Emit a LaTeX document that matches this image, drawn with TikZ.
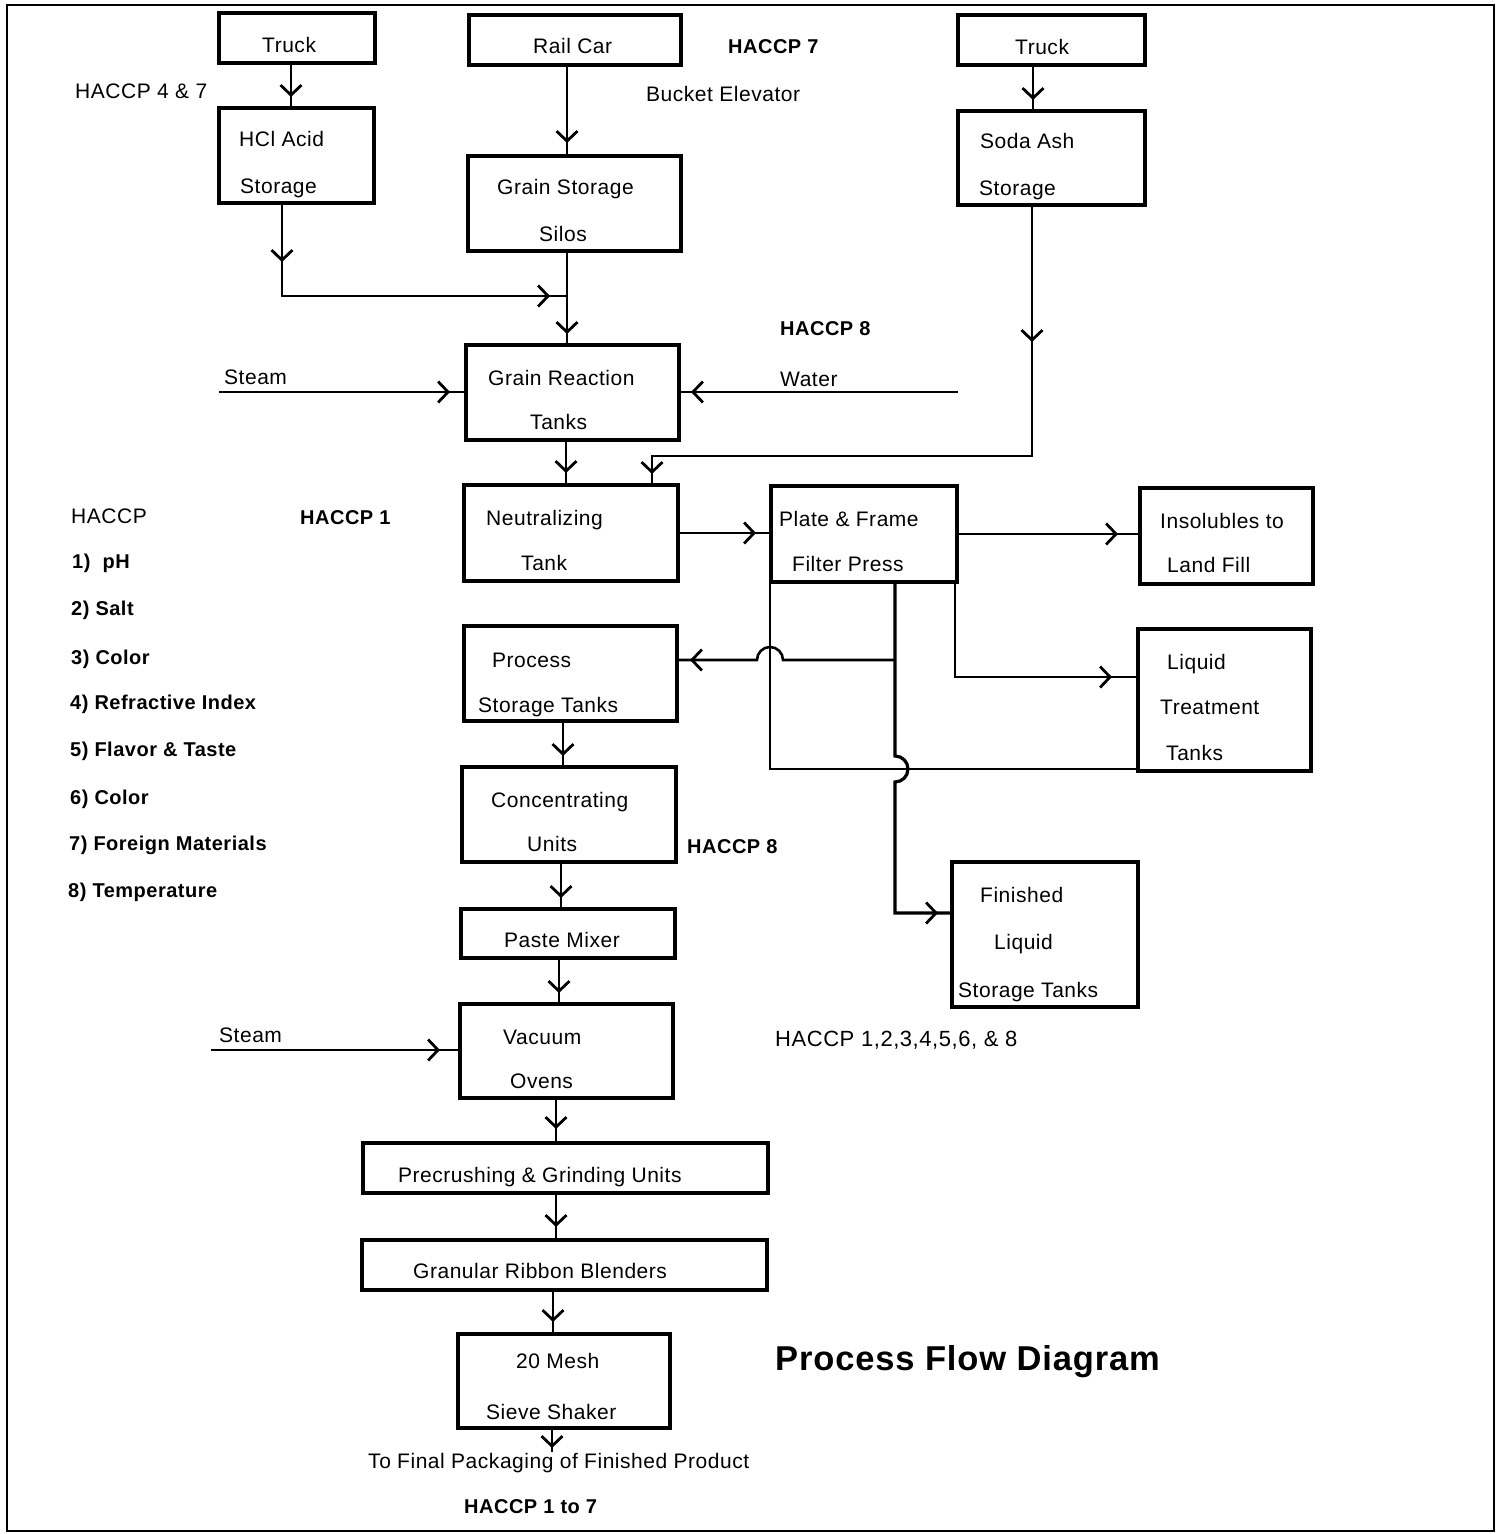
\documentclass[tikz,border=0pt]{standalone}
\usepackage{fontspec}
\setmainfont[LetterSpace=2.5]{Liberation Sans}
\usetikzlibrary{arrows.meta,decorations.markings}
\tikzset{
  box/.style={draw, line width=4pt, inner sep=0pt, outer sep=0pt, anchor=north west},
  txt/.style={anchor=base west, inner sep=0pt, font=\fontsize{21}{25}\selectfont},
  btxt/.style={anchor=base west, inner sep=0pt, font=\fontsize{20}{24}\selectfont\bfseries},
  flow/.style={line width=2.6pt},
  arr/.style={postaction={decorate,decoration={markings,mark=at position #1 with {\arrow{Straight Barb[length=10pt,width=21pt,line width=2.8pt]}}}}},
}
\begin{document}
\begin{tikzpicture}[x=1pt,y=-1pt]
\useasboundingbox (0,0) rectangle (1501,1534);
\draw[line width=2pt] (7,5) rectangle (1494,1531);

% boxes
\node[box, minimum width=156pt, minimum height=50pt] (truckA) at (219,13) {};
\node[box, minimum width=212pt, minimum height=50pt] (rail) at (469,15) {};
\node[box, minimum width=187pt, minimum height=50pt] (truckB) at (958,15) {};
\node[box, minimum width=155pt, minimum height=95pt] (hclA) at (219,108) {};
\node[box, minimum width=213pt, minimum height=95pt] (silos) at (468,156) {};
\node[box, minimum width=187pt, minimum height=94pt] (soda) at (958,111) {};
\node[box, minimum width=213pt, minimum height=95pt] (react) at (466,345) {};
\node[box, minimum width=214pt, minimum height=96pt] (neut) at (464,485) {};
\node[box, minimum width=186pt, minimum height=96pt] (pf) at (771,486) {};
\node[box, minimum width=173pt, minimum height=96pt] (insol) at (1140,488) {};
\node[box, minimum width=213pt, minimum height=95pt] (proc) at (464,626) {};
\node[box, minimum width=173pt, minimum height=142pt] (liq) at (1138,629) {};
\node[box, minimum width=214pt, minimum height=95pt] (conc) at (462,767) {};
\node[box, minimum width=186pt, minimum height=145pt] (fin) at (952,862) {};
\node[box, minimum width=214pt, minimum height=49pt] (paste) at (461,909) {};
\node[box, minimum width=213pt, minimum height=94pt] (vac) at (460,1004) {};
\node[box, minimum width=405pt, minimum height=50pt] (precr) at (363,1143) {};
\node[box, minimum width=405pt, minimum height=50pt] (gran) at (362,1240) {};
\node[box, minimum width=212pt, minimum height=94pt] (mesh) at (458,1334) {};

% texts in boxes
\node[txt] (tTruckA) at (262,52) {Truck};
\node[txt] (tRail) at (533,53) {Rail Car};
\node[txt] (tTruckB) at (1015,54) {Truck};
\node[txt] (tHcl1) at (239,146) {HCl Acid};
\node[txt] (tHcl2) at (240,193) {Storage};
\node[txt] (tSil1) at (497,194) {Grain Storage};
\node[txt] (tSil2) at (539,241) {Silos};
\node[txt] (tSoda1) at (980,148) {Soda Ash};
\node[txt] (tSoda2) at (979,195) {Storage};
\node[txt] (tReact1) at (488,385) {Grain Reaction};
\node[txt] (tReact2) at (530,429) {Tanks};
\node[txt] (tNeut1) at (486,525) {Neutralizing};
\node[txt] (tNeut2) at (521,570) {Tank};
\node[txt] (tPf1) at (779,526) {Plate \& Frame};
\node[txt] (tPf2) at (792,571) {Filter Press};
\node[txt] (tIns1) at (1160,528) {Insolubles to};
\node[txt] (tIns2) at (1167,572) {Land Fill};
\node[txt] (tProc1) at (492,667) {Process};
\node[txt] (tProc2) at (478,712) {Storage Tanks};
\node[txt] (tLiq1) at (1167,669) {Liquid};
\node[txt] (tLiq2) at (1160,714) {Treatment};
\node[txt] (tLiq3) at (1166,760) {Tanks};
\node[txt] (tConc1) at (491,807) {Concentrating};
\node[txt] (tConc2) at (527,851) {Units};
\node[txt] (tFin1) at (980,902) {Finished};
\node[txt] (tFin2) at (994,949) {Liquid};
\node[txt] (tFin3) at (958,997) {Storage Tanks};
\node[txt] (tPaste) at (504,947) {Paste Mixer};
\node[txt] (tVac1) at (503,1044) {Vacuum};
\node[txt] (tVac2) at (510,1088) {Ovens};
\node[txt] (tPrecr) at (398,1182) {Precrushing \& Grinding Units};
\node[txt] (tGran) at (413,1278) {Granular Ribbon Blenders};
\node[txt] (tMesh1) at (516,1368) {20 Mesh};
\node[txt] (tMesh2) at (486,1419) {Sieve Shaker};

% free labels
\node[btxt] (hc7) at (728,53) {HACCP 7};
\node[txt] (hc47) at (75,98) {HACCP 4 \& 7};
\node[txt] (bucket) at (646,101) {Bucket Elevator};
\node[btxt] (hc8a) at (780,335) {HACCP 8};
\node[txt] (steamA) at (224,384) {Steam};
\node[txt] (water) at (780,386) {Water};
\node[txt] (hclist) at (71,523) {HACCP};
\node[btxt] (hc1) at (300,524) {HACCP 1};
\node[btxt] (l1) at (72,568) {1)\ \ pH};
\node[btxt] (l2) at (71,615) {2) Salt};
\node[btxt] (l3) at (71,664) {3) Color};
\node[btxt] (l4) at (70,709) {4) Refractive Index};
\node[btxt] (l5) at (70,756) {5) Flavor \& Taste};
\node[btxt] (l6) at (70,804) {6) Color};
\node[btxt] (l7) at (69,850) {7) Foreign Materials};
\node[btxt] (l8) at (68,897) {8) Temperature};
\node[btxt] (hc8b) at (687,853) {HACCP 8};
\node[txt] (steamB) at (219,1042) {Steam};
\node[anchor=base west, inner sep=0pt, font=\fontsize{22}{26}\selectfont] (hcall) at (775,1046) {HACCP 1,2,3,4,5,6, \& 8};
\node[anchor=base west, inner sep=0pt, font=\fontsize{34.5}{40}\selectfont\bfseries] (title) at (775,1370) {Process Flow Diagram};
\node[txt] (final) at (368,1468) {To Final Packaging of Finished Product};
\node[btxt] (hc17) at (464,1513) {HACCP 1 to 7};

% free-end coordinates
\coordinate (stA) at (219,392);
\coordinate (wA) at (958,392);
\coordinate (jn) at (567,296);
\coordinate (stB) at (211,1050);
\coordinate (jp) at (895,660);
\coordinate (c677) at (955,677);
\coordinate (c769) at (770,769);
\coordinate (c913) at (895,913);
\coordinate (endp) at (552,1452);

% connectors
\draw[flow, arr=-11pt] (291,0 |- truckA.south) -- (291,0 |- hclA.north);
\draw[flow, arr=-13pt] (567,0 |- rail.south) -- (567,0 |- silos.north);
\draw[flow, arr=-11pt] (1033,0 |- truckB.south) -- (1033,0 |- soda.north);
\draw[flow, arr=59pt, arr=-17pt] (282,0 |- hclA.south) -- (282,296) -- (jn);
\draw[flow, arr=-11pt] (567,0 |- silos.south) -- (567,0 |- react.north);
\draw[flow, arr=-16pt] (stA) -- (stA -| react.west);
\draw[flow, arr=-12pt] (wA) -- (wA -| react.east);
\draw[flow, arr=-12pt] (566,0 |- react.south) -- (566,0 |- neut.north);
\draw[flow, arr=137pt, arr=-11pt] (1032,0 |- soda.south) -- (1032,456) -- (652,456) -- (652,0 |- neut.north);
\draw[flow, arr=-15pt] (neut.east) -- (neut.east -| pf.west);
\draw[flow, arr=-22pt] (pf.east) -- (pf.east -| insol.west);
\draw[flow, arr=-26pt] (955,0 |- pf.south) -- (c677) -- (c677 -| liq.west);
\draw[flow] (770,0 |- pf.south) -- (c769) -- (c769 -| liq.west);
\draw[flow, line width=3.2pt, arr=-14pt] (895,0 |- pf.south) -- (895,756) arc[start angle=-90, end angle=90, radius=13] -- (c913) -- (c913 -| fin.west);
\draw[flow, arr=-13pt] (jp) -- (783,660) arc[start angle=0, end angle=-180, radius=13] -- (jp -| proc.east);
\draw[flow, arr=-11pt] (563,0 |- proc.south) -- (563,0 |- conc.north);
\draw[flow, arr=-11pt] (561,0 |- conc.south) -- (561,0 |- paste.north);
\draw[flow, arr=-11pt] (559,0 |- paste.south) -- (559,0 |- vac.north);
\draw[flow, arr=-20pt] (stB) -- (stB -| vac.west);
\draw[flow, arr=-14pt] (556,0 |- vac.south) -- (556,0 |- precr.north);
\draw[flow, arr=-13pt] (556,0 |- precr.south) -- (556,0 |- gran.north);
\draw[flow, arr=-12pt] (553,0 |- gran.south) -- (553,0 |- mesh.north);
\draw[flow, arr=-4pt] (552,0 |- mesh.south) -- (endp);
\end{tikzpicture}
\end{document}
